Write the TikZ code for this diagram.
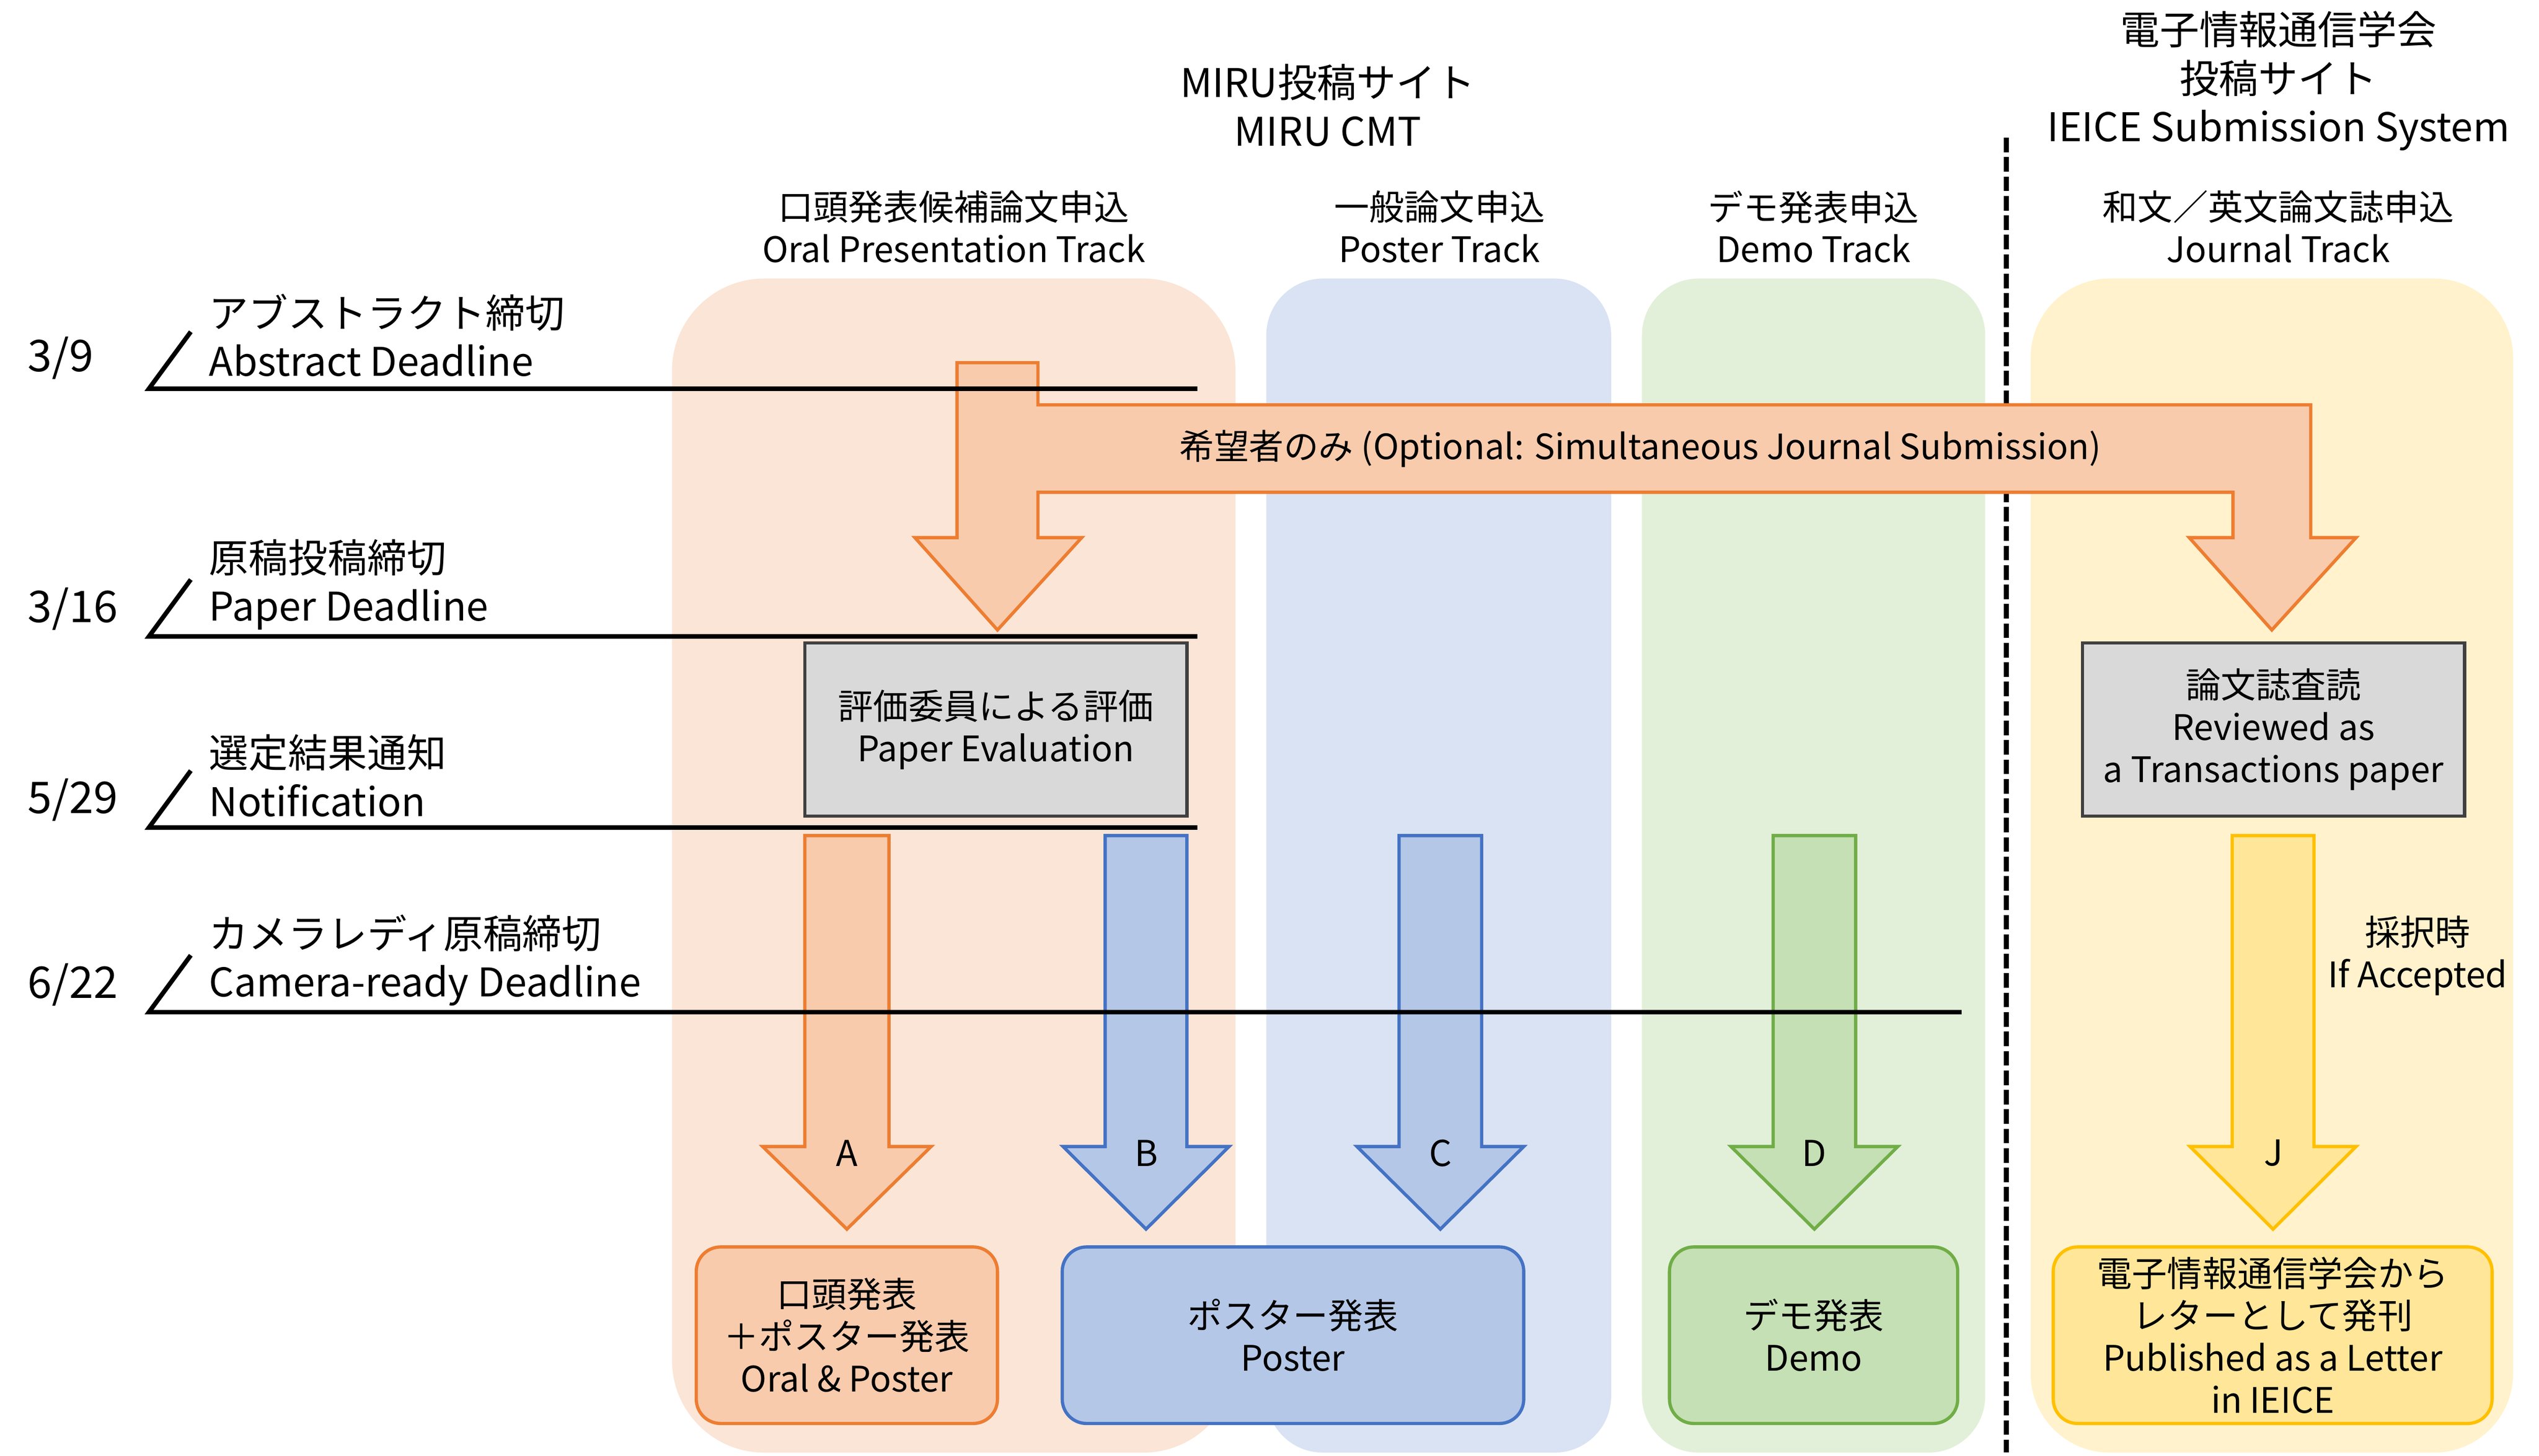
\documentclass[tikz,border=0pt]{standalone}
\usepackage{fontspec}
\setmainfont{Noto Sans CJK JP}
\newcommand\myfs[2]{\fontsize{#1}{#2}\selectfont}
\definecolor{laneO}{HTML}{FBE5D6}
\definecolor{laneB}{HTML}{DAE3F3}
\definecolor{laneG}{HTML}{E2F0D9}
\definecolor{laneY}{HTML}{FFF2CC}
\definecolor{oF}{HTML}{F8CBAD}
\definecolor{oD}{HTML}{ED7D31}
\definecolor{bF}{HTML}{B4C7E7}
\definecolor{bD}{HTML}{4472C4}
\definecolor{gF}{HTML}{C5E0B4}
\definecolor{gD}{HTML}{70AD47}
\definecolor{yF}{HTML}{FFE699}
\definecolor{yD}{HTML}{FFC000}
\definecolor{grF}{HTML}{D9D9D9}
\definecolor{grD}{HTML}{404040}
\newcommand\blockdown[6]{% style, xl, xr, ytop, yshoulder, ytip
  \draw[#1] (#2,#4) -- (#3,#4) -- (#3,#5) -- ({#3+26},#5) -- ({(#2+#3)/2},#6) -- ({#2-26},#5) -- (#2,#5) -- cycle;}
\begin{document}
\begin{tikzpicture}[x=1pt,y=-1pt,
  lanebox/.style={inner sep=0pt, draw=none},
  graybox/.style={draw=grD, fill=grF, line width=2pt, inner sep=0pt, align=center, font=\myfs{21.7}{26}},
  resbox/.style={rounded corners=15pt, line width=2pt, inner sep=0pt, align=center, font=\myfs{21.7}{26}},
  hdr/.style={align=center, font=\myfs{24.4}{30}},
  track/.style={align=center, font=\myfs{21.7}{26}},
  tltext/.style={align=left, anchor=west, inner sep=0pt, font=\myfs{24.4}{30}},
  datetext/.style={anchor=west, inner sep=0pt, font=\myfs{27}{30}},
  tline/.style={line width=2.8pt, line cap=rect},
  lbl/.style={font=\myfs{22}{26}},
  oarrow/.style={fill=oF, draw=oD, line width=2pt},
  barrow/.style={fill=bF, draw=bD, line width=2pt},
  garrow/.style={fill=gF, draw=gD, line width=2pt},
  yarrow/.style={fill=yF, draw=yD, line width=2pt}
]
\useasboundingbox (0,0) rectangle (1568,899);

% lanes
\node[lanebox, rounded corners=57pt, fill=laneO, minimum width=348pt, minimum height=725pt] (laneOral) at (589,534.5) {};
\node[lanebox, rounded corners=35pt, fill=laneB, minimum width=213pt, minimum height=725pt] (lanePoster) at (888.5,534.5) {};
\node[lanebox, rounded corners=35pt, fill=laneG, minimum width=212pt, minimum height=725pt] (laneDemo) at (1120,534.5) {};
\node[lanebox, rounded corners=49pt, fill=laneY, minimum width=298pt, minimum height=725pt] (laneJournal) at (1403,534.5) {};

% dashed separator
\coordinate (dtop) at (1239,85);
\coordinate (dbot) at (1239,897);
\draw[line width=2.9pt, dash pattern=on 9pt off 3pt] (dtop) -- (dbot);

% headers
\node[hdr] (miru) at (820,65) {MIRU投稿サイト\\MIRU CMT};
\node[hdr] (ieice) at (1407,50) {電子情報通信学会\\投稿サイト\\IEICE Submission System};
\node[track] (hOral) at (589,140) {口頭発表候補論文申込\\Oral Presentation Track};
\node[track] (hPoster) at (889,140) {一般論文申込\\Poster Track};
\node[track] (hDemo) at (1120,140) {デモ発表申込\\Demo Track};
\node[track] (hJournal) at (1407,140) {和文／英文論文誌申込\\Journal Track};

% optional branch arrow
\draw[oarrow] (591,224) -- (641,224) -- (641,250) -- (1427,250) -- (1427,332) -- (1455,332)
  -- (1403,389) -- (1352,332) -- (1379,332) -- (1379,304) -- (641,304) -- (641,332)
  -- (668,332) -- (616,389) -- (565,332) -- (591,332) -- cycle;
\node[font=\myfs{21.5}{26}] (optional) at (1013,277) {希望者のみ (Optional: Simultaneous Journal Submission)};

% gray boxes
\node[graybox, minimum width=236pt, minimum height=107pt] (eval) at (615,450.5) {評価委員による評価\\Paper Evaluation};
\node[graybox, minimum width=236pt, minimum height=107pt] (review) at (1404,450.5) {論文誌査読\\Reviewed as\\a Transactions paper};

% down arrows
\blockdown{oarrow}{497}{549}{516}{708}{759}
\blockdown{barrow}{682.5}{733}{516}{708}{759}
\blockdown{barrow}{864}{915}{516}{708}{759}
\blockdown{garrow}{1095}{1146}{516}{708}{759}
\blockdown{yarrow}{1378.5}{1429}{516}{708}{759}
\node[lbl] (la) at (523,712) {A};
\node[lbl] (lb) at (708,712) {B};
\node[lbl] (lc) at (889.5,712) {C};
\node[lbl] (ld) at (1120.5,712) {D};
\node[lbl] (lj) at (1404,712) {J};
\node[track] (accepted) at (1493,590) {採択時\\If Accepted};

% timeline
\coordinate (t1a) at (117,206); \coordinate (t1s) at (92,240); \coordinate (t1e) at (738,240);
\coordinate (t2a) at (117,359); \coordinate (t2s) at (92,393); \coordinate (t2e) at (738,393);
\coordinate (t3a) at (117,477); \coordinate (t3s) at (92,511); \coordinate (t3e) at (738,511);
\coordinate (t4a) at (117,591); \coordinate (t4s) at (92,625); \coordinate (t4e) at (1210,625);
\draw[tline] (t1a) -- (t1s) -- (t1e);
\draw[tline] (t2a) -- (t2s) -- (t2e);
\draw[tline] (t3a) -- (t3s) -- (t3e);
\draw[tline] (t4a) -- (t4s) -- (t4e);
\node[datetext] (d1) at (17,221) {3/9};
\node[datetext] (d2) at (17,376) {3/16};
\node[datetext] (d3) at (17,494) {5/29};
\node[datetext] (d4) at (17,608) {6/22};
\node[tltext] (e1) at (129,207) {アブストラクト締切\\Abstract Deadline};
\node[tltext] (e2) at (129,361) {原稿投稿締切\\Paper Deadline};
\node[tltext] (e3) at (129,479) {選定結果通知\\Notification};
\node[tltext] (e4) at (129,593) {カメラレディ原稿締切\\Camera-ready Deadline};

% result boxes
\node[resbox, fill=oF, draw=oD, minimum width=186pt, minimum height=109pt] (oral) at (523,824.5) {口頭発表\\＋ポスター発表\\Oral \& Poster};
\node[resbox, fill=bF, draw=bD, minimum width=285pt, minimum height=109pt] (poster) at (798.5,824.5) {ポスター発表\\Poster};
\node[resbox, fill=gF, draw=gD, minimum width=178pt, minimum height=109pt] (demo) at (1120,824.5) {デモ発表\\Demo};
\node[resbox, fill=yF, draw=yD, minimum width=271pt, minimum height=109pt] (letter) at (1403.5,824.5) {電子情報通信学会から\\レターとして発刊\\Published as a Letter\\in IEICE};
\end{tikzpicture}
\end{document}
